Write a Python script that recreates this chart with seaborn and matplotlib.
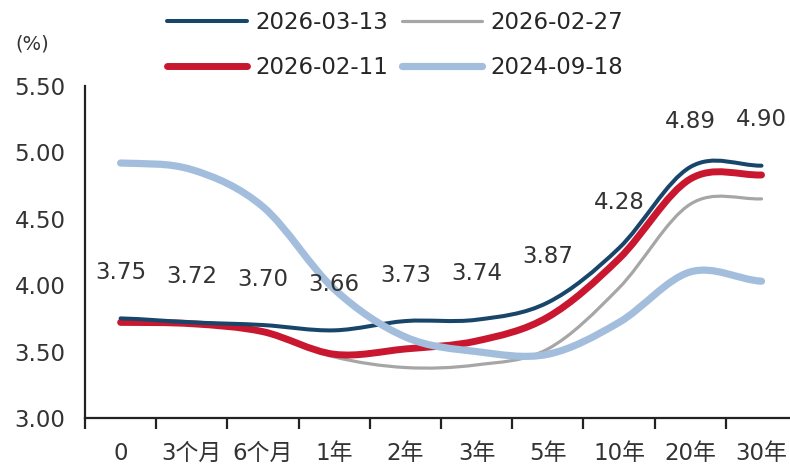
import numpy as np
import matplotlib
matplotlib.use("Agg")
import matplotlib.pyplot as plt
from matplotlib.path import Path
from matplotlib.patches import PathPatch
from matplotlib.lines import Line2D
import seaborn as sns

# Tenors along the curve
tenors = ["0", "3个月", "6个月", "1年", "2年", "3年", "5年", "10年", "20年", "30年"]

# Yields (%) for each curve date
y_20260313 = [3.75, 3.72, 3.70, 3.66, 3.73, 3.74, 3.87, 4.28, 4.89, 4.90]
y_20260227 = [3.72, 3.71, 3.64, 3.46, 3.38, 3.40, 3.52, 3.98, 4.61, 4.65]
y_20260211 = [3.72, 3.71, 3.65, 3.48, 3.52, 3.58, 3.76, 4.20, 4.80, 4.83]
y_20240918 = [4.92, 4.87, 4.59, 3.97, 3.61, 3.50, 3.48, 3.72, 4.10, 4.03]

yticks = [3.00, 3.50, 4.00, 4.50, 5.00, 5.50]

sns.set_theme(style="white")
plt.rcParams["font.family"] = ["DejaVu Sans", "Noto Sans CJK SC"]
plt.rcParams["axes.unicode_minus"] = False

FS = 16.5
TXT = "#333333"

fig = plt.figure(figsize=(7.9, 4.65), dpi=100)
ax = fig.add_axes([85 / 790, 1 - 418 / 465, 1 - 85 / 790, (418 - 86) / 465])


def smooth_path(values):
    """Catmull-Rom style cubic Bezier path through the points."""
    y = np.asarray(values, dtype=float)
    n = len(y)
    x = np.arange(n, dtype=float)
    m = np.empty(n)
    m[1:-1] = (y[2:] - y[:-2]) / 2
    m[0] = (y[1] - y[0]) / 2
    m[-1] = (y[-1] - y[-2]) / 2
    verts = [(x[0], y[0])]
    codes = [Path.MOVETO]
    for i in range(n - 1):
        verts += [(x[i] + 1 / 3, y[i] + m[i] / 3),
                  (x[i + 1] - 1 / 3, y[i + 1] - m[i + 1] / 3),
                  (x[i + 1], y[i + 1])]
        codes += [Path.CURVE4] * 3
    return Path(verts, codes)


styles = {
    "2026-02-27": dict(color="#A6A6A6", lw=2.3, z=2),
    "2026-02-11": dict(color="#C8172F", lw=5.0, z=3),
    "2026-03-13": dict(color="#17466A", lw=2.9, z=4),
    "2024-09-18": dict(color="#A3BEDD", lw=5.2, z=5),
}
data = {
    "2026-03-13": y_20260313,
    "2026-02-27": y_20260227,
    "2026-02-11": y_20260211,
    "2024-09-18": y_20240918,
}

for name, vals in data.items():
    st = styles[name]
    ax.add_patch(PathPatch(smooth_path(vals), fill=False, edgecolor=st["color"],
                           lw=st["lw"], capstyle="round", joinstyle="round",
                           zorder=st["z"]))

# Value labels for the latest curve
for i, v in enumerate(y_20260313):
    ax.annotate(f"{v:.2f}", (i, v), xytext=(0, 33), textcoords="offset points",
                ha="center", va="center", fontsize=FS, color=TXT, zorder=6)

ax.set_xlim(-0.5, 9.4)
ax.set_ylim(3.0, 5.5)
ax.set_yticks(yticks)
ax.set_yticklabels([f"{t:.2f}" for t in yticks], fontsize=FS, color=TXT)

ax.set_xticks(np.arange(-0.5, 9.0, 1.0))
ax.set_xticklabels([])
ax.set_xticks(np.arange(len(tenors)), minor=True)
ax.set_xticklabels(tenors, minor=True, fontsize=FS, color=TXT)
ax.tick_params(axis="x", which="major", length=8, width=1.6, color="#222222",
               direction="out", bottom=True)
ax.tick_params(axis="x", which="minor", length=0, pad=17)
ax.tick_params(axis="y", length=0, pad=14)

sns.despine(ax=ax, top=True, right=True)
for side in ("left", "bottom"):
    ax.spines[side].set_linewidth(1.6)
    ax.spines[side].set_color("#222222")
ax.grid(False)

fig.text(32 / 790, 1 - 44 / 465, "(%)", ha="center", va="center",
         fontsize=14, color=TXT)

order = ["2026-03-13", "2026-02-11", "2026-02-27", "2024-09-18"]
handles = [Line2D([0], [0], color=styles[k]["color"], lw=styles[k]["lw"],
                  solid_capstyle="round") for k in order]
fig.legend(handles, order, ncol=2, loc="center",
           bbox_to_anchor=(395 / 790, 1 - 45 / 465), frameon=False,
           fontsize=FS, handlelength=3.5, handletextpad=0.35,
           columnspacing=0.6, labelspacing=1.0, borderpad=0)

fig.savefig("out.png", dpi=100)
